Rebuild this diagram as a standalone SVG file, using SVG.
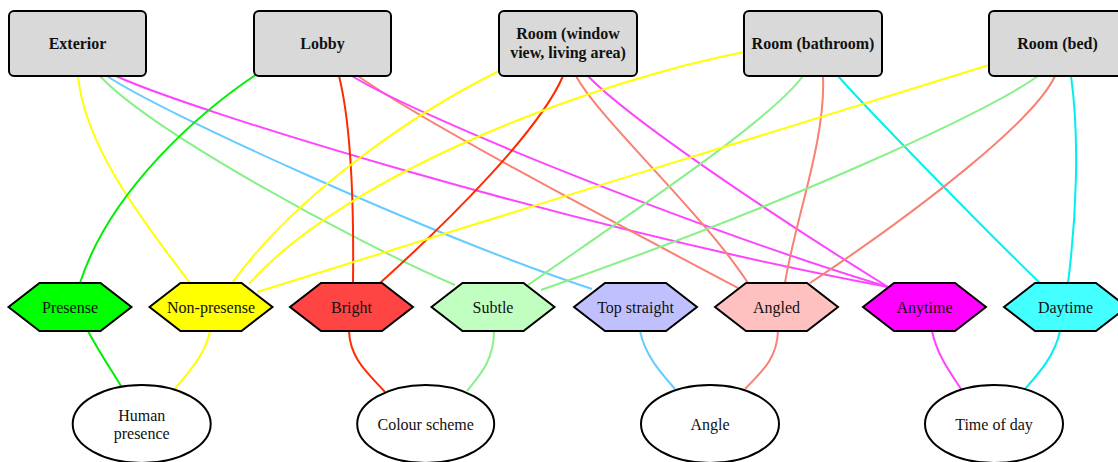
<svg xmlns="http://www.w3.org/2000/svg" width="1118" height="462" viewBox="0 0 1118 462">
<style>
  .box { fill: #d9d9d9; stroke: #000; stroke-width: 2; }
  .hex { stroke: #000; stroke-width: 2; }
  .ell { fill: #fff; stroke: #000; stroke-width: 2; }
  .bt { font-family: "Liberation Serif", "Times New Roman", serif; font-size: 16px; font-weight: bold; text-anchor: middle; fill: #111; }
  .t { font-family: "Liberation Serif", "Times New Roman", serif; font-size: 16px; text-anchor: middle; fill: #111; }
  .e { fill: none; stroke-width: 2; }
  .yel { stroke: #ffff00; }
  .grn { stroke: #00ee00; }
  .lgr { stroke: #88f088; }
  .red { stroke: #ff2a00; }
  .blu { stroke: #66ccff; }
  .sal { stroke: #fa8072; }
  .mag { stroke: #ff44ff; }
  .cya { stroke: #00f0f0; }
</style>
<rect width="1118" height="462" fill="#fff"/>
<g id="connectors">
  <path class="e yel" d="M78,76 C85,150 150,230 190,283"/>
  <path class="e lgr" d="M100,76 C150,130 350,240 455,285"/>
  <path class="e blu" d="M107,76 C160,112 430,235 592,289"/>
  <path class="e mag" d="M116,76 C190,110 560,225 888,287"/>
  <path class="e grn" d="M257,74 C200,112 110,190 80,283"/>
  <path class="e red" d="M339,76 C350,120 354,200 353,283"/>
  <path class="e sal" d="M358,76 C420,120 600,215 738,288"/>
  <path class="e mag" d="M352,76 C420,118 700,230 888,287"/>
  <path class="e yel" d="M499,71 C420,110 300,190 232,283"/>
  <path class="e red" d="M563,76 C540,130 450,220 380,283"/>
  <path class="e sal" d="M576,76 C600,120 700,210 748,283"/>
  <path class="e mag" d="M588,76 C630,120 780,220 888,287"/>
  <path class="e yel" d="M744,52 C600,80 350,170 249,284"/>
  <path class="e lgr" d="M803,76 C770,120 650,200 528,285"/>
  <path class="e sal" d="M823,76 C826,140 795,220 785,283"/>
  <path class="e cya" d="M838,76 C870,112 980,225 1040,283"/>
  <path class="e yel" d="M989,65 C800,125 450,230 257,292"/>
  <path class="e lgr" d="M1038,76 C990,110 800,200 541,290"/>
  <path class="e sal" d="M1055,76 C1035,120 920,210 810,283"/>
  <path class="e cya" d="M1071,76 C1080,140 1076,220 1068,283"/>
  <path class="e grn" d="M88,331 C98,350 110,368 121,386"/>
  <path class="e yel" d="M210,331 C205,355 190,370 175,389"/>
  <path class="e red" d="M349,331 C350,360 370,375 385,392"/>
  <path class="e lgr" d="M494,331 C494,360 480,375 467,391"/>
  <path class="e blu" d="M640,331 C645,355 660,372 675,389"/>
  <path class="e sal" d="M778,331 C777,360 760,373 745,389"/>
  <path class="e mag" d="M932,331 C937,355 950,372 961,389"/>
  <path class="e cya" d="M1060,331 C1055,355 1040,372 1025,389"/>
</g>
<g id="exterior"><rect class="box" x="9" y="11" width="137" height="65" rx="5"/><text class="bt" x="77.5" y="48.5">Exterior</text></g>
<g id="lobby"><rect class="box" x="254" y="11" width="137" height="65" rx="5"/><text class="bt" x="322.5" y="48.5">Lobby</text></g>
<g id="room_window"><rect class="box" x="499" y="11" width="138" height="65" rx="5"/><text class="bt" x="568" y="39">Room (window</text><text class="bt" x="568" y="58">view, living area)</text></g>
<g id="room_bathroom"><rect class="box" x="744" y="11" width="138" height="65" rx="5"/><text class="bt" x="813" y="48.5">Room (bathroom)</text></g>
<g id="room_bed"><rect class="box" x="989" y="11" width="137" height="65" rx="5"/><text class="bt" x="1057.5" y="48.5">Room (bed)</text></g>
<g id="presense"><polygon class="hex" fill="#00ff00" points="8.5,307 39.5,283 100.5,283 131.5,307 100.5,331 39.5,331"/><text class="t" x="70" y="312.5">Presense</text></g>
<g id="non_presense"><polygon class="hex" fill="#ffff00" points="149.5,307 180.5,283 241.5,283 272.5,307 241.5,331 180.5,331"/><text class="t" x="211" y="312.5">Non-presense</text></g>
<g id="bright"><polygon class="hex" fill="#ff4444" points="290,307 321,283 382,283 413,307 382,331 321,331"/><text class="t" x="351.5" y="312.5">Bright</text></g>
<g id="subtle"><polygon class="hex" fill="#c0ffc0" points="431.5,307 462.5,283 523.5,283 554.5,307 523.5,331 462.5,331"/><text class="t" x="493" y="312.5">Subtle</text></g>
<g id="top_straight"><polygon class="hex" fill="#c0c0ff" points="574,307 605,283 666,283 697,307 666,331 605,331"/><text class="t" x="635.5" y="312.5">Top straight</text></g>
<g id="angled"><polygon class="hex" fill="#ffc0c0" points="715,307 746,283 807,283 838,307 807,331 746,331"/><text class="t" x="776.5" y="312.5">Angled</text></g>
<g id="anytime"><polygon class="hex" fill="#ff00ff" points="863,307 894,283 955,283 986,307 955,331 894,331"/><text class="t" x="924.5" y="312.5">Anytime</text></g>
<g id="daytime"><polygon class="hex" fill="#44ffff" points="1004,307 1035,283 1096,283 1127,307 1096,331 1035,331"/><text class="t" x="1065.5" y="312.5">Daytime</text></g>
<g id="human_presence"><ellipse class="ell" cx="141.7" cy="424" rx="69" ry="39"/><text class="t" x="141.7" y="420.5">Human</text><text class="t" x="141.7" y="438.5">presence</text></g>
<g id="colour_scheme"><ellipse class="ell" cx="425.7" cy="424" rx="68.5" ry="39"/><text class="t" x="425.7" y="429.5">Colour scheme</text></g>
<g id="angle"><ellipse class="ell" cx="710" cy="424" rx="69" ry="39"/><text class="t" x="710" y="429.5">Angle</text></g>
<g id="time_of_day"><ellipse class="ell" cx="994" cy="424" rx="69" ry="39"/><text class="t" x="994" y="429.5">Time of day</text></g>
</svg>
